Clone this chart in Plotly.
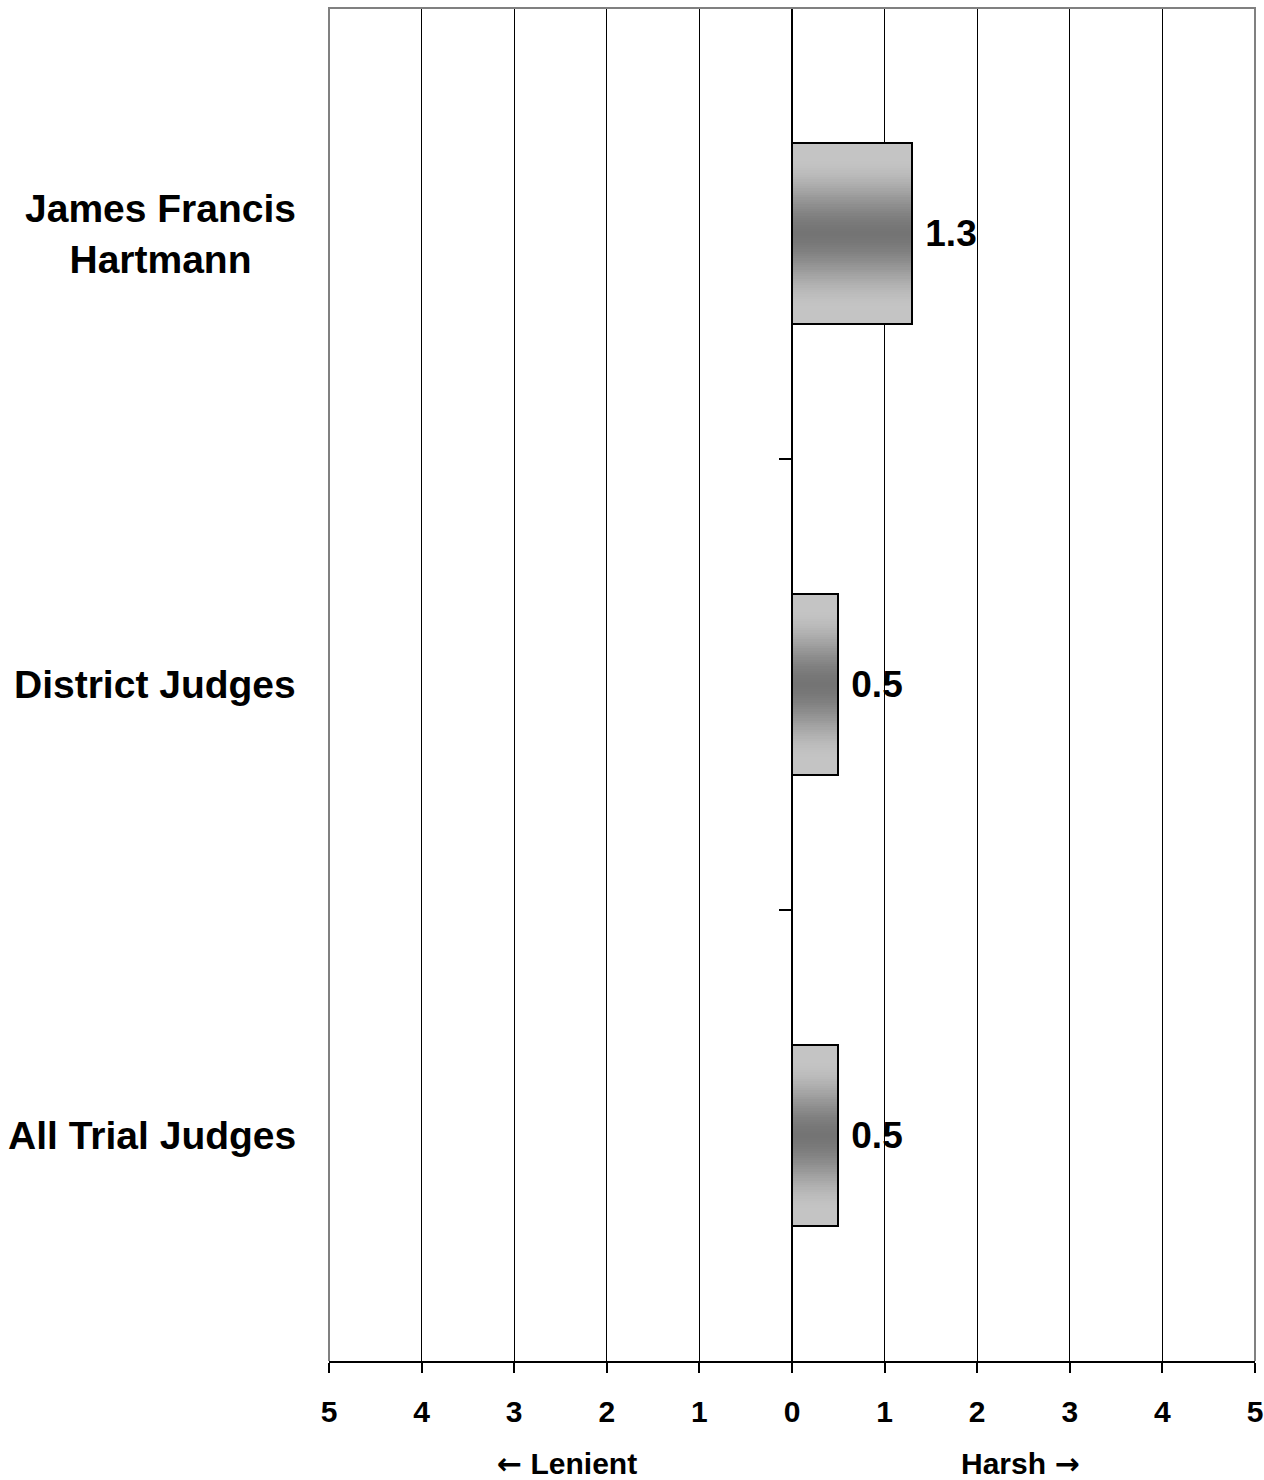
import plotly.graph_objects as go

categories = ["James Francis Hartmann", "District Judges", "All Trial Judges"]
category_labels = ["James Francis<br>Hartmann", "District Judges", "All Trial Judges"]
values = [1.3, 0.5, 0.5]
value_text = ["\u00a01.3", "\u00a00.5", "\u00a00.5"]
x_tickvals = [-5, -4, -3, -2, -1, 0, 1, 2, 3, 4, 5]
x_ticktext = ["5", "4", "3", "2", "1", "0", "1", "2", "3", "4", "5"]

FONT = "Liberation Sans, Arial, sans-serif"
ARROW_FONT = "DejaVu Sans"
BAR_W = 0.4
N_LAYERS = 40
LIGHT = (196, 196, 196)
DARK = (116, 116, 116)
Y_RANGE = [2.5002, -0.5002]

fig = go.Figure()

# gradient fill: stacked overlay bars of decreasing thickness
for i in range(N_LAYERS):
    s = i / N_LAYERS
    w = BAR_W * (1 - s)
    d = 1 - s
    f = min(1.0, max(0.0, d / 0.85))
    f = f * f * (3 - 2 * f)
    c = tuple(int(round(DARK[k] + (LIGHT[k] - DARK[k]) * f)) for k in range(3))
    fig.add_trace(go.Bar(
        y=categories, x=values, orientation="h", width=w,
        marker=dict(color="rgb(%d,%d,%d)" % c, line=dict(width=0)),
        hoverinfo="skip", showlegend=False, yaxis="y",
    ))

# outline + value labels on top
fig.add_trace(go.Bar(
    y=categories, x=values, orientation="h", width=BAR_W,
    marker=dict(color="rgba(0,0,0,0)", line=dict(color="black", width=2)),
    text=value_text, textposition="outside", constraintext="none",
    textfont=dict(family=FONT, size=37, color="black", weight="bold"),
    cliponaxis=False, showlegend=False, yaxis="y2",
))

for cat, lab in zip(categories, category_labels):
    fig.add_annotation(
        x=0, xref="paper", xanchor="right", xshift=-31,
        y=cat, yref="y", yanchor="middle",
        text=lab, showarrow=False, align="center",
        font=dict(family=FONT, size=39, color="black", weight="bold"),
    )

fig.add_annotation(x=-2.43, xref="x", y=-0.0754, yref="paper", yanchor="middle",
                   text="<span style='font-family:%s'>←</span> Lenient" % ARROW_FONT,
                   showarrow=False,
                   font=dict(family=FONT, size=30, color="black", weight="bold"))
fig.add_annotation(x=2.47, xref="x", y=-0.0754, yref="paper", yanchor="middle",
                   text="Harsh <span style='font-family:%s'>→</span>" % ARROW_FONT,
                   showarrow=False,
                   font=dict(family=FONT, size=30, color="black", weight="bold"))

# gray plot border (top, left, right)
fig.add_shape(type="path", xref="paper", yref="paper",
              path="M 0,0 L 0,1 L 1,1 L 1,0",
              line=dict(color="#808080", width=2), layer="above")

fig.update_layout(
    width=1264, height=1480,
    margin=dict(l=329, r=9, t=8, b=119, autoexpand=False),
    paper_bgcolor="white", plot_bgcolor="white",
    barmode="overlay", bargap=0,
    font=dict(family=FONT, color="black"),
    xaxis=dict(
        range=[-5, 5], tickvals=x_tickvals, ticktext=x_ticktext,
        showgrid=True, gridcolor="black", gridwidth=1,
        zeroline=False, showline=True, linecolor="black", linewidth=2,
        ticks="outside", ticklen=10, tickwidth=2, tickcolor="black",
        tickfont=dict(family=FONT, size=30, color="black", weight="bold"),
        ticklabelstandoff=13, ticklabeloverflow="allow",
        automargin=False, fixedrange=True,
    ),
    yaxis=dict(
        type="category", categoryorder="array", categoryarray=categories,
        range=Y_RANGE, showgrid=False, zeroline=False, automargin=False,
        showline=False, showticklabels=False, ticks="", fixedrange=True,
    ),
    yaxis2=dict(
        type="category", categoryorder="array", categoryarray=categories,
        range=Y_RANGE, overlaying="y", anchor="free", position=0.5,
        side="left", showgrid=False, zeroline=False, automargin=False,
        showline=True, linecolor="black", linewidth=2,
        ticks="outside", tickson="boundaries", ticklen=12, tickwidth=2,
        tickcolor="black", showticklabels=False, fixedrange=True,
    ),
)

fig.write_html(
    "out.html",
    config={"displayModeBar": False},
    post_script="document.body.style.margin='0';document.body.style.overflow='hidden';",
)
